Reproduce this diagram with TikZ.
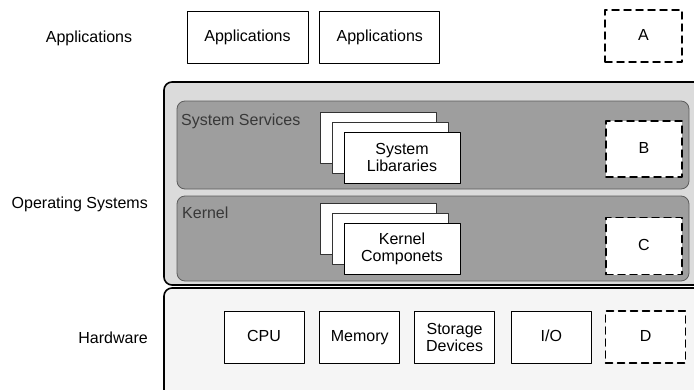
\documentclass[tikz,border=0pt]{standalone}
\usepackage{fontspec}
\setmainfont{Liberation Sans}
\usetikzlibrary{positioning}

\begin{document}
\begin{tikzpicture}[x=1pt,y=-1pt,line cap=round,line join=round,
  font=\fontsize{16}{17}\selectfont,
  box/.style={draw=black, fill=white, line width=.8pt, inner sep=0pt,
    minimum width=116pt, minimum height=51pt, align=center},
  oneline/.style={text height=11.5pt, text depth=3.4pt},
  sheet/.style={box, draw=black!80},
  hwbox/.style={box, minimum width=80pt, minimum height=52pt},
  spare/.style={draw=black, fill=white, line width=1.5pt, dash pattern=on 7pt off 5pt,
    minimum width=77pt, minimum height=52pt, inner sep=0pt},
  layername/.style={anchor=east, inner sep=0pt},
  bandname/.style={anchor=west, inner sep=0pt, text=black!78}]

\definecolor{osFill}{RGB}{219,219,219}
\definecolor{band}{RGB}{158,158,158}
\definecolor{bandEdge}{RGB}{92,92,92}
\definecolor{hwFill}{RGB}{245,245,245}

\path[use as bounding box] (0,0) rectangle (694,389);

% layer names
\node[inner sep=0pt] (appname) at (89,38) {Applications};
\node[layername] (osname) at (148,204) {Operating Systems};
\node[layername] (hwname) at (148,338) {Hardware};

% applications
\node[box, oneline, minimum width=121pt, minimum height=52pt] (app1) at (247.5,37) {Applications};
\node[box, oneline, minimum width=120pt, minimum height=52pt, right=11pt of app1] (app2) {Applications};
\node[spare, oneline] (spareA) at (643.5,36) {A};

% operating system
\draw[black, line width=1.6pt, fill=osFill, rounded corners=8pt] (164,82) rectangle (702,285);
\draw[bandEdge, line width=.8pt, fill=band, rounded corners=8pt] (177,101) rectangle (689,189);
\draw[bandEdge, line width=.8pt, fill=band, rounded corners=8pt] (177,196) rectangle (689,281);
\node[bandname] (svcname) at (181,121) {System Services};
\node[bandname] (kername) at (182,213) {Kernel};

% system libraries
\node[sheet] (libs3) at (378,137.5) {};
\node[sheet] (libs2) at (390,147.5) {};
\node[box] (libs) at (402,157.5) {System\\Libararies};
\node[spare, oneline, minimum width=76pt, minimum height=56pt] (spareB) at (644,149) {B};

% kernel components
\node[sheet] (kern3) at (378,228.5) {};
\node[sheet] (kern2) at (390,238.5) {};
\node[box] (kern) at (402,248.5) {Kernel\\Componets};
\node[spare, oneline, minimum width=76pt, minimum height=57pt] (spareC) at (644,246) {C};

% hardware
\draw[black, line width=1.6pt, fill=hwFill, rounded corners=8pt] (164,288) rectangle (702,400);
\node[hwbox, oneline] (cpu) at (264,337) {CPU};
\node[hwbox, oneline, right=15pt of cpu] (mem) {Memory};
\node[hwbox, right=14pt of mem] (disk) {Storage\\Devices};
\node[hwbox, oneline, right=16pt of disk] (io) {I/O};
\node[spare, oneline, minimum width=80pt, right=13pt of io] (spareD) {D};

\end{tikzpicture}
\end{document}
